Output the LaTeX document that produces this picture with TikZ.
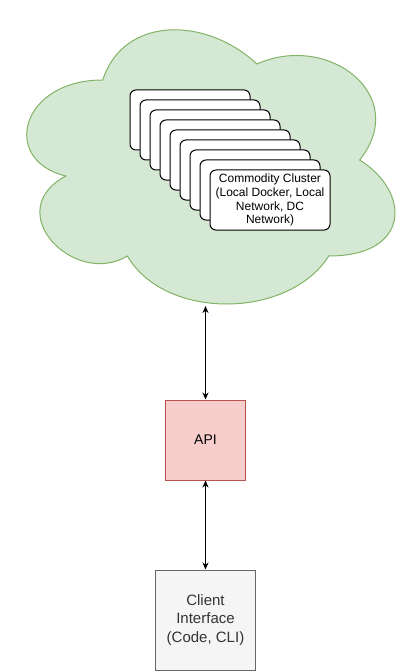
\documentclass[tikz,border=0pt]{standalone}
\usepackage{fontspec}
\setmainfont{Liberation Sans}
\usetikzlibrary{arrows.meta}
\definecolor{cloudfill}{HTML}{D5E8D4}
\definecolor{clouddraw}{HTML}{82B366}
\definecolor{apifill}{HTML}{F8CECC}
\definecolor{apidraw}{HTML}{B85450}
\definecolor{clifill}{HTML}{F5F5F5}
\definecolor{clidraw}{HTML}{666666}
\definecolor{clitext}{HTML}{333333}
\tikzset{
  card/.style={draw=black, fill=white, rounded corners=6pt, minimum width=120pt, minimum height=60pt, line width=1pt, inner sep=0pt, align=center, font=\fontsize{12}{13.8}\selectfont},
  apibox/.style={draw=apidraw, fill=apifill, minimum width=80pt, minimum height=80pt, line width=1pt, inner sep=0pt, font=\fontsize{14}{16.8}\selectfont},
  clibox/.style={draw=clidraw, fill=clifill, text=clitext, minimum width=100pt, minimum height=100pt, line width=1pt, inner sep=0pt, align=center, font=\fontsize{15}{18.3}\selectfont},
  conn/.style={line width=1pt, {Stealth[length=7pt,width=6pt]}-{Stealth[length=7pt,width=6pt]}}
}
\begin{document}
\begin{tikzpicture}[x=1pt,y=-1pt]
\useasboundingbox (0,0) rectangle (411,671);
% cloud
\draw[fill=cloudfill, draw=clouddraw, line width=1pt]
  (102.75,80)
  .. controls (20.55,80) and (0,160) .. (65.76,176)
  .. controls (0,211.2) and (73.98,288) .. (127.41,256)
  .. controls (164.4,320) and (287.7,320) .. (328.8,256)
  .. controls (411,256) and (411,192) .. (359.625,160)
  .. controls (411,96) and (328.8,32) .. (256.875,64)
  .. controls (205.5,16) and (123.3,16) .. (102.75,80) -- cycle;
\coordinate (cloudbot) at (205.5,306);
% stacked cards
\foreach \i in {0,...,7} {
  \node[card] (card\i) at ({190+10*\i},{120+10*\i}) {};
}
\node[card] (card8) at (270,200) {Commodity Cluster\\(Local Docker, Local\\Network, DC\\Network)};
% API
\node[apibox] (api) at (205.5,440) {API};
% Client
\node[clibox] (cli) at (205.5,620) {Client\\Interface\\(Code, CLI)};
% connectors
\draw[conn] (cloudbot) -- (api.north);
\draw[conn] (api.south) -- (cli.north);
\end{tikzpicture}
\end{document}
